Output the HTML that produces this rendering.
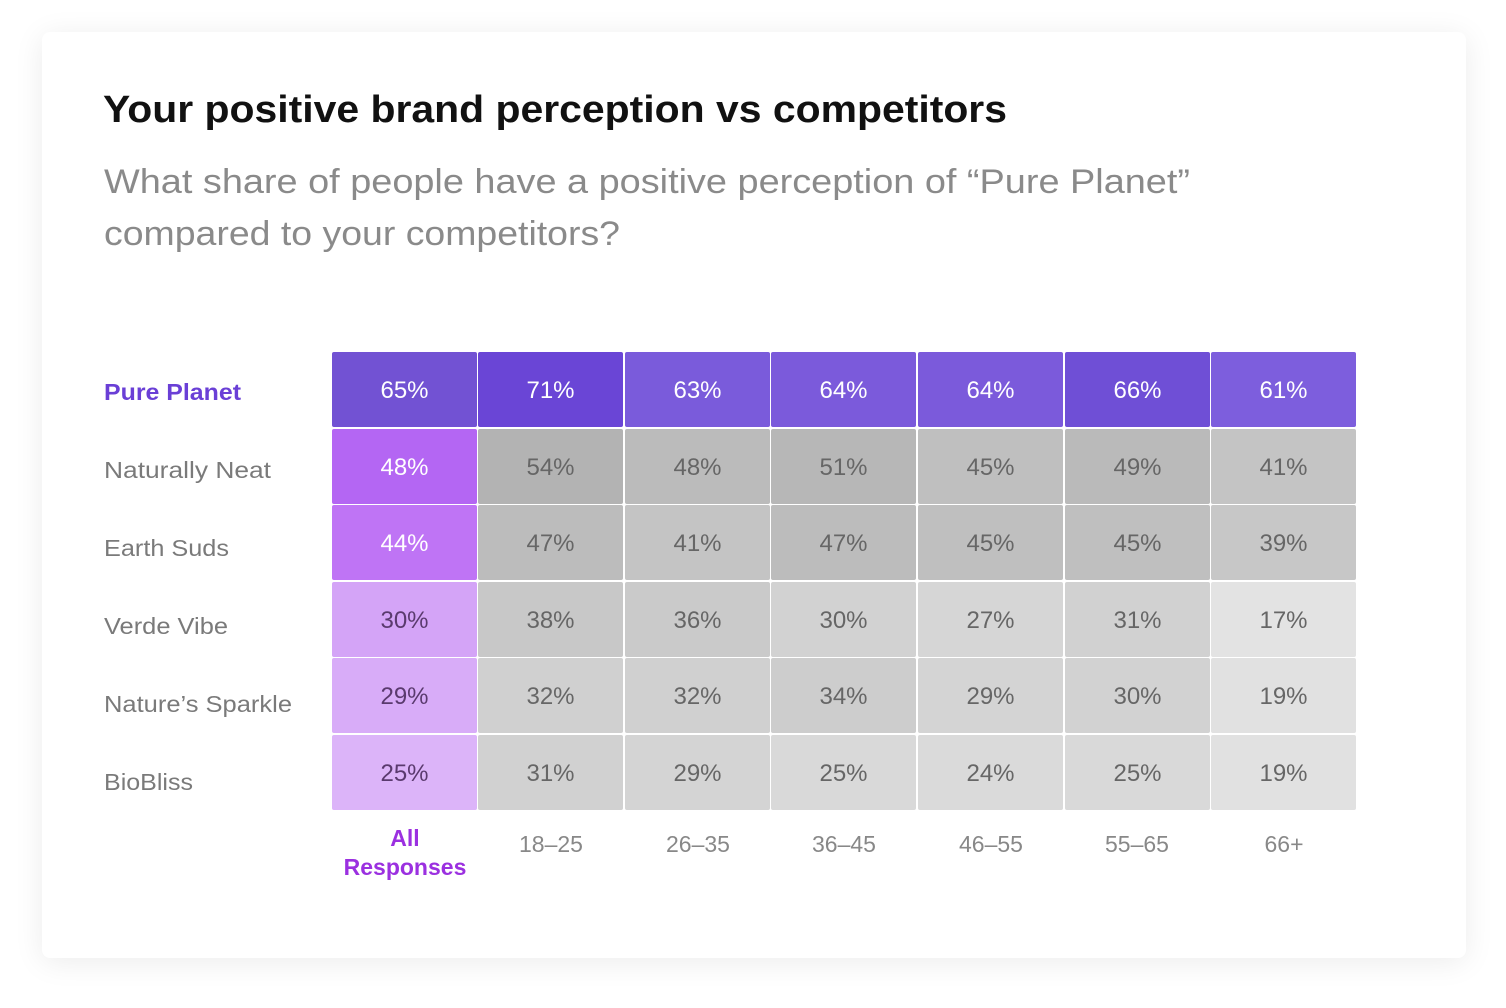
<!DOCTYPE html>
<html><head><meta charset="utf-8"><style>
html,body{margin:0;padding:0;background:#fff;width:1506px;height:1008px;overflow:hidden}
.card{position:absolute;left:42px;top:32px;width:1424px;height:926px;background:#fff;border-radius:8px;box-shadow:0 4px 30px rgba(0,0,0,0.08)}
svg{position:absolute;left:0;top:0}
text{font-family:"Liberation Sans",sans-serif}
</style></head><body>
<div class="card"></div>
<svg width="1506" height="1008" xmlns="http://www.w3.org/2000/svg">
<text x="103" y="122" font-size="38" font-weight="bold" fill="#111" textLength="904" lengthAdjust="spacingAndGlyphs">Your positive brand perception vs competitors</text>
<text x="104" y="193" font-size="34" fill="#8a8a8a" textLength="1086" lengthAdjust="spacingAndGlyphs">What share of people have a positive perception of “Pure Planet”</text>
<text x="104" y="245" font-size="34" fill="#8a8a8a" textLength="516" lengthAdjust="spacingAndGlyphs">compared to your competitors?</text>
<g font-size="23">
<text x="104" y="400" font-weight="bold" fill="#6a3fd6" textLength="137" lengthAdjust="spacingAndGlyphs">Pure Planet</text>
<text x="104" y="478" fill="#7a7a7a" textLength="167" lengthAdjust="spacingAndGlyphs">Naturally Neat</text>
<text x="104" y="556" fill="#7a7a7a" textLength="125" lengthAdjust="spacingAndGlyphs">Earth Suds</text>
<text x="104" y="634" fill="#7a7a7a" textLength="124" lengthAdjust="spacingAndGlyphs">Verde Vibe</text>
<text x="104" y="712" fill="#7a7a7a" textLength="188" lengthAdjust="spacingAndGlyphs">Nature’s Sparkle</text>
<text x="104" y="790" fill="#7a7a7a" textLength="89" lengthAdjust="spacingAndGlyphs">BioBliss</text>
</g>
<g id="grid"></g>
<g font-size="23" text-anchor="middle" fill="#888">
<text x="405" y="846" fill="#9b30e0" font-weight="bold">All</text>
<text x="405" y="875" fill="#9b30e0" font-weight="bold">Responses</text>
<text x="551" y="852">18–25</text>
<text x="698" y="852">26–35</text>
<text x="844" y="852">36–45</text>
<text x="991" y="852">46–55</text>
<text x="1137" y="852">55–65</text>
<text x="1284" y="852">66+</text>
</g>
</svg>
<script>
(function(){
var xs=[332,478,625,771,918,1065,1211],ys=[352,429,505,582,658,735];
var vals=[[65,71,63,64,64,66,61],[48,54,48,51,45,49,41],[44,47,41,47,45,45,39],[30,38,36,30,27,31,17],[29,32,32,34,29,30,19],[25,31,29,25,24,25,19]];
var topc=['#7252d3','#6a45d6','#7a5bdb','#7b5adb','#7b5adb','#6f4fd6','#7d5edd'];
var first=['#b466f3','#bf74f5','#d4a4f7','#d8acf8','#dcb4f9'];
var s='';
for(var r=0;r<6;r++)for(var c=0;c<7;c++){
 var v=vals[r][c],fill,tc;
 if(r==0){fill=topc[c];tc='#fff';}
 else if(c==0){fill=first[r-1];tc=r<3?'#fff':'#5a3a6e';}
 else{var g=Math.round(179+(54-v)*1.3);g=Math.min(228,g);fill='rgb('+g+','+g+','+g+')';tc='#666';}
 s+='<rect x="'+xs[c]+'" y="'+ys[r]+'" width="145" height="75" rx="2" fill="'+fill+'"/>';
 s+='<text x="'+(xs[c]+72.5)+'" y="'+(ys[r]+46)+'" font-size="24" text-anchor="middle" fill="'+tc+'">'+v+'%</text>';
}
document.getElementById('grid').innerHTML=s;
})();
</script>
</body></html>
